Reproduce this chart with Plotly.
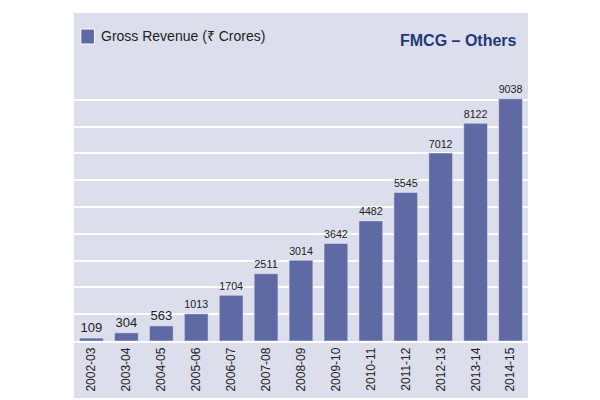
import plotly.graph_objects as go

years = ["2002-03","2003-04","2004-05","2005-06","2006-07","2007-08","2008-09",
         "2009-10","2010-11","2011-12","2012-13","2013-14","2014-15"]
revenue = [109, 304, 563, 1013, 1704, 2511, 3014, 3642, 4482, 5545, 7012, 8122, 9038]

W, H = 600, 400
ml, mr, mt, mb = 66, 80, 65, 67
ph = H - mt - mb

fig = go.Figure(go.Bar(x=years, y=revenue, marker_color="#5f69a3", width=0.68,
                       text=[str(v) for v in revenue], textposition="outside",
                       textfont=dict(size=13, color="#222", family="Liberation Sans Narrow, Arial Narrow, Liberation Sans"),
                       cliponaxis=False))
fig.add_shape(type="rect", xref="paper", yref="paper", x0=0, x1=1,
              y0=-(390 - (H - mb)) / ph, y1=1 + (mt - 5) / ph,
              fillcolor="#dcdeec", line_width=0, layer="below")
fig.add_shape(type="rect", xref="paper", yref="paper", x0=0.015, x1=0.045,
              y0=1 + (mt - 36) / ph, y1=1 + (mt - 21) / ph,
              fillcolor="#5f69a3", line=dict(color="white", width=1))
fig.add_annotation(xref="paper", yref="paper", x=0.055, y=1 + (mt - 28) / ph,
                   text="Gross Revenue (₹ Crores)", showarrow=False, xanchor="left",
                   yanchor="middle",
                   font=dict(size=14, color="#222", family="Liberation Sans Narrow, Liberation Sans"))
fig.add_annotation(xref="paper", yref="paper", x=0.98, y=1 + (mt - 32) / ph,
                   text="<b>FMCG – Others</b>", showarrow=False, xanchor="right",
                   yanchor="middle",
                   font=dict(size=16, color="#1f3a7a", family="Liberation Sans"))
fig.update_layout(width=W, height=H, margin=dict(l=ml, r=mr, t=mt, b=mb),
                  paper_bgcolor="white", plot_bgcolor="rgba(0,0,0,0)", showlegend=False,
                  yaxis=dict(range=[0, 10000], dtick=1000, showticklabels=False,
                             gridcolor="white", gridwidth=1.5, zeroline=False),
                  xaxis=dict(type="category", tickangle=-90, automargin=False,
                             tickfont=dict(size=12, color="#222",
                             family="Liberation Sans Narrow, Liberation Sans"),
                             showline=True, linecolor="white", linewidth=1.5))
fig.write_html("out.html")
